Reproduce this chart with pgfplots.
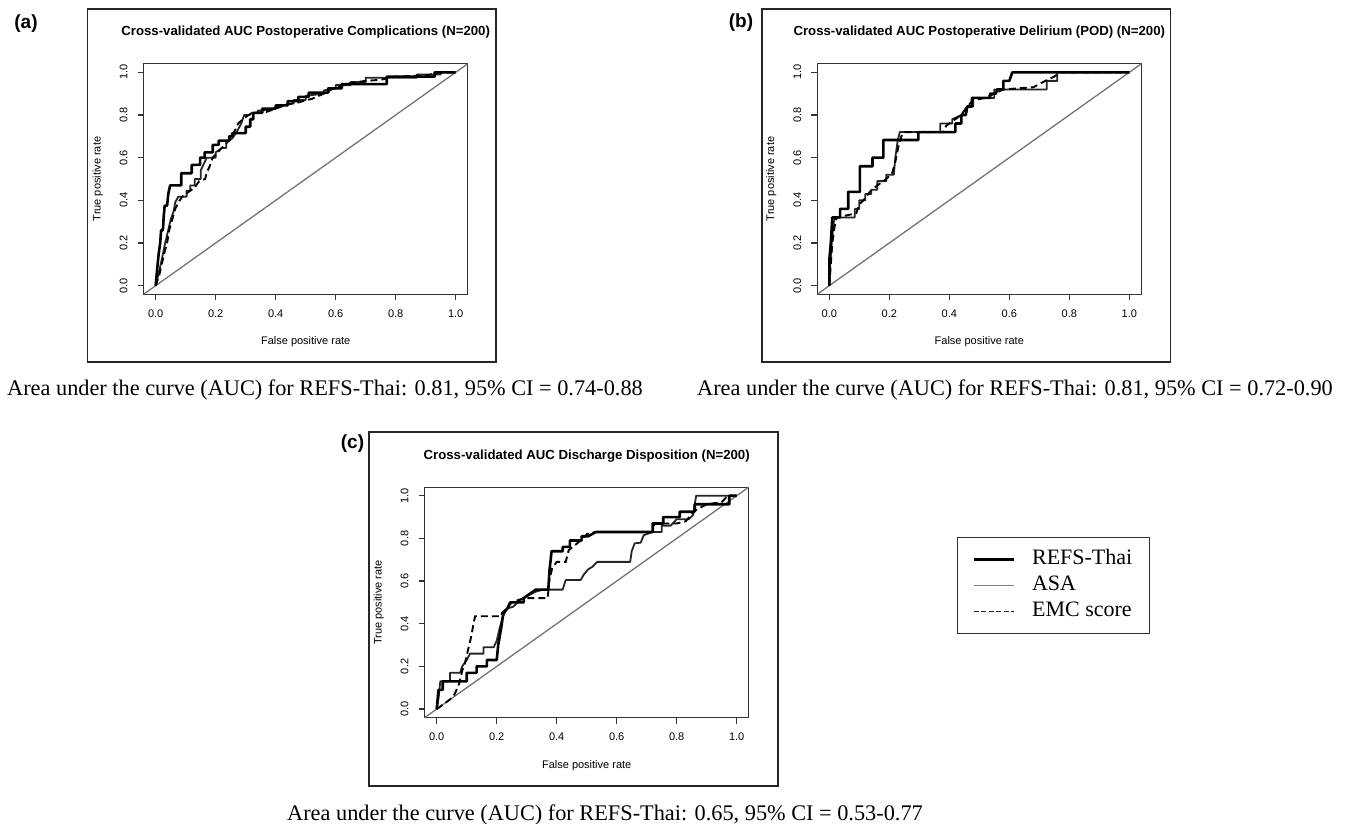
\documentclass[border=0pt]{standalone}
\usepackage{pgfplots}
\pgfplotsset{compat=1.18}
\usepackage{fontspec}
\setmainfont{Liberation Serif}
\newfontfamily\sansf{Liberation Sans}

\pgfplotsset{
  rocaxis/.style={
    scale only axis, width=324pt, height=230.4pt,
    xmin=-0.04, xmax=1.04, ymin=-0.04, ymax=1.04,
    xtick={0,0.2,0.4,0.6,0.8,1}, ytick={0,0.2,0.4,0.6,0.8,1},
    xtick pos=left, ytick pos=left, tick align=outside, major tick length=6pt,
    axis line style={black!80, line width=1.2pt},
    every tick/.style={black!80, line width=1.2pt},
    /pgf/number format/fixed, /pgf/number format/fixed zerofill, /pgf/number format/precision=1,
    /pgf/number format/assume math mode=true,
    tick label style={font=\sansf\fontsize{11}{13}\selectfont},
    xticklabel style={anchor=north, inner xsep=0pt, inner ysep=9pt},
    yticklabel style={rotate=90, anchor=south, inner xsep=0pt, inner ysep=10pt},
    title style={font=\sansf\bfseries\fontsize{13.2}{15}\selectfont, at={(0.5,1.11)}, anchor=center},
    xlabel style={font=\sansf\fontsize{11}{13}\selectfont, at={(axis description cs:0.5,-0.2075)}, anchor=center},
    ylabel style={font=\sansf\fontsize{11}{13}\selectfont, at={(axis description cs:-0.142,0.5)}, anchor=center},
    xlabel={False positive rate}, ylabel={True positive rate},
  },
  refs/.style={black, line width=2.6pt, line join=round},
  asa/.style={black!85, line width=1.8pt, line join=round},
  emc/.style={black, line width=1.9pt, dash pattern=on 7pt off 4pt},
  diag/.style={black!55, line width=1.3pt},
}

\begin{document}
\begin{tikzpicture}[x=1pt,y=1pt]
\useasboundingbox (0pt,0pt) rectangle (1349pt,-824pt);
\draw[line width=1.5pt, black!85] (87.5pt,-9pt) rectangle (496pt,-362pt);
\draw[line width=1.5pt, black!85] (762pt,-9pt) rectangle (1170.6pt,-362pt);
\draw[line width=1.5pt, black!85] (369pt,-432pt) rectangle (778pt,-786pt);
\node[font=\sansf\bfseries\fontsize{19}{21}\selectfont, inner sep=0pt] at (26pt,-23.5pt) {(a)};
\node[font=\sansf\bfseries\fontsize{19}{21}\selectfont, inner sep=0pt] at (741pt,-22.5pt) {(b)};
\node[font=\sansf\bfseries\fontsize{19}{21}\selectfont, inner sep=0pt] at (352.5pt,-443.5pt) {(c)};
\node[anchor=base west, inner sep=0pt, font=\fontsize{22.3}{24}\selectfont] at (7pt,-395pt) {Area under the curve (AUC) for REFS-Thai: 0.81, 95\% CI = 0.74-0.88};
\node[anchor=base west, inner sep=0pt, font=\fontsize{22.3}{24}\selectfont] at (697pt,-395pt) {Area under the curve (AUC) for REFS-Thai: 0.81, 95\% CI = 0.72-0.90};
\node[anchor=base west, inner sep=0pt, font=\fontsize{22.3}{24}\selectfont] at (287pt,-820pt) {Area under the curve (AUC) for REFS-Thai: 0.65, 95\% CI = 0.53-0.77};

% ---------------- (a)
\begin{axis}[rocaxis, at={(143.7pt,-63.8pt)}, anchor=north west,
  title={Cross-validated AUC Postoperative Complications (N=200)}]
\addplot[diag] coordinates {(-0.04,-0.04) (1.04,1.04)};
\addplot[asa] coordinates {(0,0) (0.01,0.06) (0.02,0.12) (0.03,0.19) (0.04,0.25) (0.05,0.31) (0.06,0.35) (0.065,0.39) (0.075,0.417) (0.103,0.417) (0.103,0.445) (0.115,0.445) (0.115,0.47) (0.13,0.47) (0.13,0.5) (0.15,0.5) (0.15,0.54) (0.16,0.57) (0.17,0.6) (0.2,0.6) (0.2,0.625) (0.22,0.645) (0.235,0.645) (0.235,0.67) (0.255,0.69) (0.27,0.72) (0.285,0.76) (0.295,0.8) (0.31,0.8) (0.32,0.81) (0.34,0.81) (0.34,0.82) (0.38,0.825) (0.4,0.835) (0.42,0.845) (0.46,0.855) (0.46,0.87) (0.5,0.87) (0.5,0.89) (0.56,0.9) (0.56,0.915) (0.6,0.925) (0.6,0.94) (0.65,0.94) (0.65,0.955) (0.70,0.955) (0.70,0.975) (0.87,0.975) (0.87,0.99) (0.95,0.99) (0.95,1) (1,1)};
\addplot[emc] coordinates {(0,0) (0.012,0.05) (0.02,0.1) (0.03,0.16) (0.038,0.2) (0.045,0.26) (0.055,0.31) (0.065,0.36) (0.08,0.4) (0.09,0.42) (0.11,0.44) (0.13,0.46) (0.145,0.49) (0.165,0.5) (0.17,0.53) (0.18,0.56) (0.19,0.6) (0.21,0.63) (0.23,0.66) (0.25,0.69) (0.265,0.73) (0.275,0.76) (0.29,0.78) (0.31,0.8) (0.33,0.81) (0.37,0.815) (0.4,0.83) (0.44,0.85) (0.48,0.86) (0.5,0.87) (0.52,0.875) (0.56,0.9) (0.6,0.93) (0.65,0.95) (0.7,0.96) (0.75,0.965) (0.8,0.98) (0.9,0.985) (0.95,1) (1,1)};
\addplot[refs] coordinates {(0,0) (0.005,0.08) (0.01,0.15) (0.015,0.2) (0.018,0.26) (0.024,0.26) (0.027,0.33) (0.03,0.375) (0.038,0.375) (0.042,0.43) (0.048,0.47) (0.085,0.47) (0.085,0.527) (0.12,0.527) (0.12,0.566) (0.148,0.566) (0.148,0.6) (0.163,0.6) (0.163,0.625) (0.19,0.625) (0.19,0.66) (0.21,0.66) (0.21,0.68) (0.245,0.68) (0.245,0.7) (0.255,0.7) (0.255,0.715) (0.30,0.715) (0.30,0.745) (0.315,0.745) (0.315,0.78) (0.325,0.78) (0.325,0.81) (0.355,0.81) (0.355,0.83) (0.40,0.83) (0.40,0.845) (0.44,0.845) (0.44,0.865) (0.475,0.865) (0.475,0.885) (0.51,0.885) (0.51,0.905) (0.575,0.905) (0.575,0.925) (0.62,0.925) (0.62,0.945) (0.77,0.945) (0.77,0.98) (0.93,0.98) (0.93,1) (1,1)};
\end{axis}

% ---------------- (b)
\begin{axis}[rocaxis, at={(817.3pt,-63.8pt)}, anchor=north west,
  title={Cross-validated AUC Postoperative Delirium (POD) (N=200)}]
\addplot[diag] coordinates {(-0.04,-0.04) (1.04,1.04)};
\addplot[asa] coordinates {(0,0) (0.003,0.1) (0.008,0.2) (0.015,0.3) (0.02,0.32) (0.085,0.32) (0.085,0.36) (0.1,0.36) (0.1,0.4) (0.12,0.4) (0.12,0.43) (0.14,0.43) (0.14,0.45) (0.16,0.45) (0.16,0.49) (0.19,0.49) (0.19,0.52) (0.215,0.52) (0.22,0.6) (0.228,0.68) (0.235,0.72) (0.37,0.72) (0.37,0.76) (0.41,0.76) (0.41,0.78) (0.44,0.8) (0.46,0.84) (0.48,0.84) (0.48,0.88) (0.55,0.88) (0.55,0.92) (0.725,0.92) (0.725,0.96) (0.76,0.96) (0.76,1) (1,1)};
\addplot[emc] coordinates {(0,0) (0.005,0.1) (0.01,0.2) (0.018,0.28) (0.025,0.32) (0.06,0.33) (0.09,0.34) (0.1,0.38) (0.12,0.41) (0.135,0.44) (0.16,0.47) (0.19,0.5) (0.21,0.53) (0.22,0.58) (0.23,0.65) (0.24,0.7) (0.25,0.72) (0.38,0.72) (0.39,0.75) (0.42,0.78) (0.44,0.8) (0.46,0.84) (0.48,0.87) (0.52,0.88) (0.55,0.9) (0.58,0.92) (0.68,0.93) (0.72,0.96) (0.75,0.98) (0.77,1) (1,1)};
\addplot[refs] coordinates {(0,0) (0,0.12) (0.005,0.2) (0.01,0.32) (0.036,0.32) (0.036,0.36) (0.063,0.36) (0.063,0.44) (0.102,0.44) (0.102,0.56) (0.144,0.56) (0.144,0.6) (0.18,0.6) (0.18,0.683) (0.297,0.683) (0.297,0.72) (0.42,0.72) (0.42,0.76) (0.44,0.76) (0.44,0.8) (0.455,0.8) (0.46,0.84) (0.475,0.84) (0.475,0.88) (0.536,0.88) (0.536,0.9) (0.555,0.9) (0.56,0.92) (0.58,0.92) (0.58,0.96) (0.6,0.96) (0.61,1) (1,1)};
\end{axis}

% ---------------- (c)
\begin{axis}[rocaxis, at={(424.7pt,-487.2pt)}, anchor=north west,
  title={Cross-validated AUC Discharge Disposition (N=200)},
  legend style={at={(1.643,0.785)}, anchor=north west, draw=black!80, line width=1.3pt,
    inner xsep=15pt, inner ysep=10pt, font=\fontsize{22}{24}\selectfont,
    nodes={inner sep=2pt, text height=15pt, text depth=5pt}, row sep=2pt,
    /tikz/every odd column/.append style={column sep=15pt}},
  legend cell align=left,
  legend image code/.code={\draw[#1] (0pt,0pt) -- (40pt,0pt);}]
\addplot[diag, forget plot] coordinates {(-0.04,-0.04) (1.04,1.04)};
\addplot[asa, forget plot] coordinates {(0,0) (0.006,0.05) (0.012,0.13) (0.044,0.13) (0.044,0.17) (0.078,0.17) (0.085,0.2) (0.1,0.23) (0.111,0.26) (0.156,0.26) (0.156,0.29) (0.19,0.29) (0.2,0.32) (0.21,0.38) (0.22,0.43) (0.233,0.47) (0.255,0.48) (0.278,0.51) (0.3,0.53) (0.33,0.55) (0.355,0.56) (0.42,0.56) (0.43,0.605) (0.48,0.605) (0.49,0.63) (0.505,0.655) (0.52,0.668) (0.535,0.69) (0.645,0.69) (0.65,0.74) (0.66,0.777) (0.68,0.78) (0.69,0.815) (0.72,0.83) (0.75,0.83) (0.75,0.86) (0.78,0.86) (0.8,0.89) (0.84,0.89) (0.855,0.91) (0.86,0.96) (0.865,1) (1,1)};
\addplot[emc, forget plot] coordinates {(0,0) (0.02,0.02) (0.044,0.045) (0.06,0.07) (0.075,0.12) (0.085,0.18) (0.094,0.215) (0.105,0.28) (0.115,0.34) (0.122,0.395) (0.128,0.435) (0.217,0.435) (0.217,0.45) (0.233,0.47) (0.25,0.5) (0.29,0.52) (0.37,0.52) (0.375,0.6) (0.385,0.66) (0.4,0.69) (0.43,0.69) (0.44,0.745) (0.48,0.79) (0.5,0.82) (0.53,0.83) (0.72,0.83) (0.725,0.87) (0.8,0.87) (0.83,0.88) (0.86,0.93) (0.9,0.96) (0.95,0.97) (0.97,1) (1,1)};
\addplot[refs, forget plot] coordinates {(0,0) (0.006,0.09) (0.02,0.09) (0.02,0.13) (0.1,0.13) (0.1,0.17) (0.133,0.17) (0.133,0.2) (0.167,0.2) (0.167,0.23) (0.2,0.23) (0.205,0.3) (0.21,0.34) (0.216,0.39) (0.222,0.45) (0.235,0.47) (0.245,0.5) (0.29,0.5) (0.29,0.52) (0.31,0.54) (0.33,0.56) (0.372,0.56) (0.376,0.65) (0.383,0.74) (0.42,0.74) (0.42,0.76) (0.444,0.76) (0.444,0.79) (0.483,0.79) (0.483,0.81) (0.505,0.81) (0.53,0.83) (0.72,0.83) (0.72,0.87) (0.755,0.87) (0.755,0.9) (0.81,0.9) (0.81,0.925) (0.86,0.925) (0.86,0.96) (0.975,0.96) (0.975,1) (1,1)};
\addlegendimage{black, line width=2.4pt}
\addlegendentry{REFS-Thai}
\addlegendimage{black!50, line width=1.4pt}
\addlegendentry{ASA}
\addlegendimage{black!85, line width=1.5pt, dash pattern=on 5pt off 2.5pt}
\addlegendentry{EMC score}
\end{axis}
\end{tikzpicture}
\end{document}
